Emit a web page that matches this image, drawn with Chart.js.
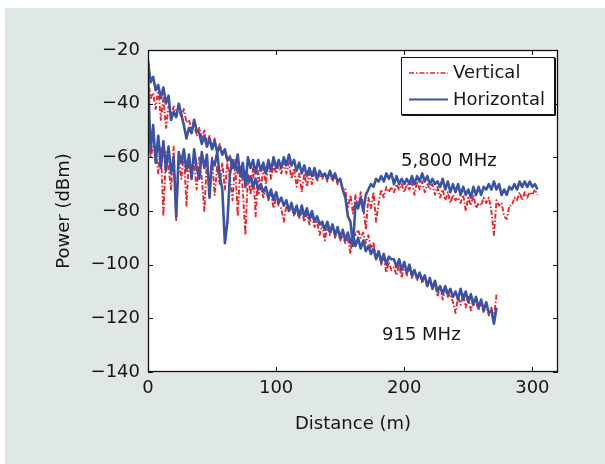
<!DOCTYPE html>
<html>
<head>
<meta charset="utf-8">
<script src="https://cdn.jsdelivr.net/npm/chart.js@4.4.1/dist/chart.umd.min.js"></script>
<style>
  html, body { margin: 0; padding: 0; background: #ffffff; }
  canvas { display: block; }
</style>
</head>
<body>
<canvas id="chart" width="605" height="464"></canvas>
<script>
// Sample positions along the route (m)
const distance = [
  0, 2, 4, 6, 8, 10, 12, 14, 16, 18,
  20, 22, 24, 26, 28, 30, 32, 34, 36, 38,
  40, 42, 44, 46, 48, 50, 52, 54, 56, 58,
  60, 62, 64, 66, 68, 70, 72, 74, 76, 78,
  80, 82, 84, 86, 88, 90, 92, 94, 96, 98,
  100, 102, 104, 106, 108, 110, 112, 114, 116, 118,
  120, 122, 124, 126, 128, 130, 132, 134, 136, 138,
  140, 142, 144, 146, 148, 150, 152, 154, 156, 158,
  160, 162, 164, 166, 168, 170, 172, 174, 176, 178,
  180, 182, 184, 186, 188, 190, 192, 194, 196, 198,
  200, 202, 204, 206, 208, 210, 212, 214, 216, 218,
  220, 222, 224, 226, 228, 230, 232, 234, 236, 238,
  240, 242, 244, 246, 248, 250, 252, 254, 256, 258,
  260, 262, 264, 266, 268, 270, 272, 274, 276, 278,
  280, 282, 284, 286, 288, 290, 292, 294, 296, 298,
  300, 302, 304
];

// 5,800 MHz received power (dBm)
const vert5800 = [
  -34, -60, -56, -57, -66, -56, -82, -58, -64, -72,
  -56, -84, -60, -68, -58, -78, -60, -68, -62, -72,
  -60, -68, -80, -61, -70, -60, -74, -63, -70, -62,
  -72, -62, -68, -76, -62, -82, -64, -72, -89, -66,
  -74, -64, -82, -65, -72, -64, -70, -62, -68, -63,
  -66, -63, -66, -62, -66, -62, -68, -64, -71, -66,
  -73, -66, -71, -66, -70, -65, -69, -66, -68, -66,
  -69, -66, -69, -67, -70, -69, -72, -72, -79, -74,
  -81, -74, -79, -73, -78, -87, -75, -79, -73, -84,
  -77, -72, -75, -71, -73, -71, -73, -70, -72, -70,
  -73, -70, -72, -69, -74, -69, -72, -69, -73, -70,
  -72, -70, -74, -71, -75, -72, -76, -73, -77, -74,
  -76, -75, -77, -74, -80, -75, -78, -74, -79, -77,
  -78, -75, -77, -75, -80, -89, -76, -78, -77, -82,
  -83, -78, -78, -75, -76, -73, -76, -73, -75, -73,
  -74, -72, -74
];
const horiz5800 = [
  -30, -58, -48, -62, -52, -64, -54, -65, -56, -66,
  -60, -82, -58, -62, -57, -65, -59, -68, -57, -64,
  -68, -58, -64, -59, -75, -61, -63, -58, -67, -72,
  -92, -84, -66, -61, -64, -59, -67, -62, -71, -60,
  -64, -61, -66, -61, -65, -62, -66, -61, -65, -60,
  -64, -61, -64, -60, -63, -59, -63, -61, -65, -62,
  -66, -63, -67, -64, -67, -64, -68, -65, -67, -66,
  -68, -65, -68, -66, -69, -68, -72, -75, -82, -84,
  -93, -77, -79, -75, -80, -74, -72, -70, -71, -68,
  -69, -67, -69, -66, -68, -66, -70, -67, -70, -68,
  -70, -68, -70, -67, -70, -67, -69, -66, -69, -67,
  -70, -68, -70, -69, -71, -68, -72, -69, -73, -70,
  -73, -70, -74, -71, -74, -72, -75, -71, -74, -71,
  -74, -71, -72, -70, -72, -69, -72, -70, -74, -72,
  -74, -71, -72, -70, -72, -69, -71, -69, -71, -69,
  -71, -70, -72
];

// 915 MHz received power (dBm), 0 to 272 m
const vert915 = [
  -30, -38, -36, -42, -34, -46, -38, -49, -41, -45,
  -41, -44, -42, -45, -42, -47, -46, -50, -48, -52,
  -49, -53, -50, -55, -52, -56, -53, -58, -55, -59,
  -58, -62, -59, -64, -61, -66, -63, -67, -65, -70,
  -68, -72, -69, -74, -71, -75, -72, -76, -73, -79,
  -75, -78, -79, -84, -78, -80, -78, -82, -79, -83,
  -80, -84, -81, -85, -82, -86, -84, -89, -85, -91,
  -86, -89, -85, -90, -87, -91, -89, -92, -90, -96,
  -87, -89, -87, -90, -88, -92, -89, -94, -92, -97,
  -95, -100, -97, -103, -99, -102, -101, -104, -100, -105,
  -100, -104, -101, -105, -102, -106, -103, -107, -104, -108,
  -106, -109, -107, -112, -108, -113, -109, -112, -111, -114,
  -118, -112, -115, -111, -116, -112, -117, -113, -114, -117,
  -114, -118, -115, -119, -116, -120, -111
];
const horiz915 = [
  -24, -32, -30, -35, -33, -38, -34, -40, -37, -46,
  -43, -45, -40, -44, -48, -53, -49, -51, -46, -50,
  -51, -55, -52, -56, -53, -57, -54, -58, -56, -59,
  -57, -61, -60, -64, -62, -65, -64, -68, -66, -69,
  -67, -71, -68, -72, -70, -73, -71, -75, -72, -76,
  -73, -77, -75, -78, -76, -80, -77, -81, -78, -82,
  -78, -82, -79, -83, -80, -84, -82, -85, -84, -87,
  -84, -88, -85, -89, -86, -90, -87, -91, -88, -92,
  -89, -93, -90, -94, -91, -95, -93, -96, -94, -98,
  -95, -99, -96, -100, -97, -98, -98, -101, -98, -102,
  -99, -103, -100, -104, -102, -105, -103, -106, -104, -108,
  -105, -109, -106, -110, -108, -111, -108, -111, -109, -112,
  -110, -113, -109, -113, -110, -114, -111, -115, -112, -116,
  -113, -117, -114, -118, -117, -122, -116
];

const yTicks = [-140, -120, -100, -80, -60, -40, -20];
const xTicks = [0, 100, 200, 300];
const seriesNames = ['Vertical', 'Horizontal'];
const bandLabels = ['5,800 MHz', '915 MHz'];

const FONT = 'DejaVu Sans';
const TEXT = '#161616';
const RED = '#ec2227';
const BLUE = '#3a53a4';
const RED_DASH = [5, 2, 1.5, 2];

const toPoints = vals => vals.map((v, i) => ({ x: distance[i], y: v }));
const minusSign = v => String(v).replace('-', '\u2212');

Chart.defaults.font.family = FONT;
Chart.defaults.font.size = 18;
Chart.defaults.color = TEXT;

// Backgrounds, plot frame with inward ticks, legend box and band labels
const decorations = {
  id: 'decorations',
  beforeDraw(chart) {
    const { ctx, chartArea: a } = chart;
    ctx.save();
    ctx.fillStyle = '#ffffff';
    ctx.fillRect(0, 0, chart.width, chart.height);
    ctx.fillStyle = '#e0e8e6';
    ctx.fillRect(5, 8, chart.width - 5, chart.height - 8);
    ctx.fillStyle = '#ffffff';
    ctx.fillRect(a.left, a.top, a.right - a.left, a.bottom - a.top);
    ctx.restore();
  },
  afterDraw(chart) {
    const { ctx, chartArea: a, scales } = chart;
    const xs = scales.x, ys = scales.y;
    ctx.save();
    ctx.strokeStyle = '#111111';
    ctx.lineWidth = 1.3;
    ctx.strokeRect(a.left + 0.5, a.top + 0.5, a.right - a.left - 1, a.bottom - a.top - 1);
    ctx.lineWidth = 1;
    const tl = 5;
    ctx.beginPath();
    xTicks.forEach(t => {
      const px = Math.round(xs.getPixelForValue(t)) + 0.5;
      ctx.moveTo(px, a.bottom); ctx.lineTo(px, a.bottom - tl);
      ctx.moveTo(px, a.top); ctx.lineTo(px, a.top + tl);
    });
    yTicks.forEach(t => {
      const py = Math.round(ys.getPixelForValue(t)) + 0.5;
      ctx.moveTo(a.left, py); ctx.lineTo(a.left + tl, py);
      ctx.moveTo(a.right, py); ctx.lineTo(a.right - tl, py);
    });
    ctx.stroke();

    // legend
    const lx = 401, ly = 57, lw = 153, lh = 57;
    ctx.fillStyle = '#ffffff';
    ctx.fillRect(lx, ly, lw, lh);
    ctx.strokeStyle = '#111111';
    ctx.lineWidth = 1;
    ctx.strokeRect(lx + 0.5, ly + 0.5, lw, lh);
    ctx.beginPath();
    ctx.moveTo(lx + lw + 1.5, ly + 1); ctx.lineTo(lx + lw + 1.5, ly + lh + 1.5);
    ctx.lineTo(lx + 1, ly + lh + 1.5);
    ctx.stroke();

    const rows = [
      { label: seriesNames[0], color: RED, dash: RED_DASH, width: 1.6, y: 73 },
      { label: seriesNames[1], color: BLUE, dash: [], width: 1.8, y: 99.5 }
    ];
    ctx.font = '18px "' + FONT + '"';
    ctx.textBaseline = 'middle';
    ctx.textAlign = 'left';
    rows.forEach(r => {
      ctx.strokeStyle = r.color;
      ctx.lineWidth = r.width;
      ctx.setLineDash(r.dash);
      ctx.beginPath();
      ctx.moveTo(409, r.y); ctx.lineTo(448, r.y);
      ctx.stroke();
      ctx.setLineDash([]);
      ctx.fillStyle = TEXT;
      ctx.fillText(r.label, 453, r.y + 0.5);
    });

    // band labels
    ctx.fillStyle = TEXT;
    ctx.fillText(bandLabels[0], 401, 161);
    ctx.fillText(bandLabels[1], 382, 335);
    ctx.restore();
  }
};

new Chart(document.getElementById('chart'), {
  type: 'line',
  data: {
    datasets: [
      { label: seriesNames[0], data: toPoints(vert5800), borderColor: RED, borderWidth: 1.9, borderDash: RED_DASH, order: 1 },
      { label: seriesNames[1], data: toPoints(horiz5800), borderColor: BLUE, borderWidth: 2.6, order: 0 },
      { label: seriesNames[0], data: toPoints(vert915), borderColor: RED, borderWidth: 1.9, borderDash: RED_DASH, order: 1 },
      { label: seriesNames[1], data: toPoints(horiz915), borderColor: BLUE, borderWidth: 2.6, order: 0 }
    ]
  },
  options: {
    responsive: false,
    animation: false,
    devicePixelRatio: 1,
    events: [],
    layout: { padding: { left: 0, top: 50, right: 47, bottom: 0 } },
    elements: {
      point: { radius: 0 },
      line: { tension: 0, borderJoinStyle: 'round', fill: false }
    },
    plugins: { legend: { display: false }, tooltip: { enabled: false } },
    scales: {
      x: {
        type: 'linear',
        min: 0, max: 320,
        afterFit: s => { s.height = 92; },
        afterBuildTicks: s => { s.ticks = xTicks.map(v => ({ value: v })); },
        ticks: { padding: 6, color: TEXT, font: { size: 18 }, callback: v => minusSign(v) },
        grid: { display: false, drawTicks: false },
        border: { display: false },
        title: { display: true, text: 'Distance (m)', color: TEXT, font: { size: 18 }, padding: { top: 0, bottom: 29 } }
      },
      y: {
        type: 'linear',
        min: -140, max: -20,
        afterFit: s => { s.width = 148; },
        afterBuildTicks: s => { s.ticks = yTicks.map(v => ({ value: v })); },
        ticks: { padding: 8, color: TEXT, font: { size: 18 }, callback: v => minusSign(v) },
        grid: { display: false, drawTicks: false },
        border: { display: false },
        title: { display: true, text: 'Power (dBm)', color: TEXT, font: { size: 18 }, padding: { top: 54, bottom: 0 } }
      }
    }
  },
  plugins: [decorations]
});
</script>
</body>
</html>
